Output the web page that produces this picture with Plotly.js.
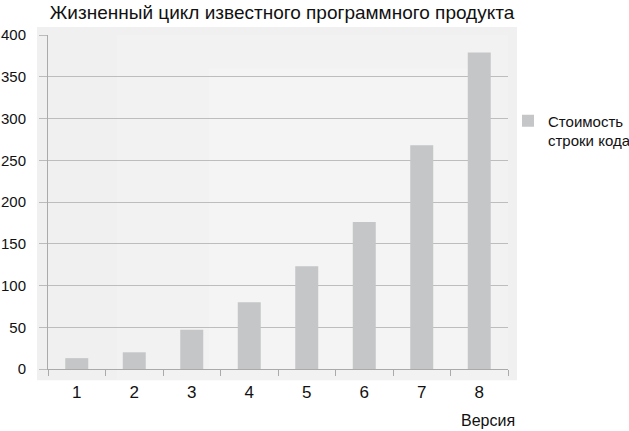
<!DOCTYPE html>
<html>
<head>
<meta charset="utf-8">
<script src="https://cdn.plot.ly/plotly-3.0.1.min.js"></script>
<style>
  html, body { margin: 0; padding: 0; background: #fff; }
  #chart { width: 629px; height: 431px; }
</style>
</head>
<body>
<div id="chart"></div>
<script>
// Версии продукта и стоимость строки кода
const versions = ['1', '2', '3', '4', '5', '6', '7', '8'];
const costPerLine = [13, 20, 47, 80, 123, 176, 268, 379];
const yTicks = [0, 50, 100, 150, 200, 250, 300, 350, 400];

const FONT = 'Liberation Sans, Arial, sans-serif';

const trace = {
    type: 'bar',
    x: versions,
    y: costPerLine,
    name: 'Стоимость<br>строки кода',
    marker: { color: '#c5c6c7', line: { width: 0 } },
    width: 0.4,
    hoverinfo: 'x+y'
};

const layout = {
    width: 629,
    height: 431,
    paper_bgcolor: '#ffffff',
    plot_bgcolor: 'rgba(0,0,0,0)',
    font: { family: FONT, size: 15, color: '#111' },
    margin: { l: 48, r: 121, t: 35, b: 62, autoexpand: false },
    title: {
        text: 'Жизненный цикл известного программного продукта',
        font: { family: FONT, size: 19, color: '#111' },
        xref: 'paper', x: 0.004, xanchor: 'left',
        yref: 'container', y: 0.972, yanchor: 'middle'
    },
    xaxis: {
        type: 'category',
        tickson: 'boundaries',
        ticks: 'outside',
        ticklen: 6,
        tickcolor: '#aaaaaa',
        showline: true,
        linecolor: '#aaaaaa',
        showgrid: false,
        zeroline: false,
        ticklabelstandoff: 8,
        tickfont: { family: FONT, size: 17, color: '#111' }
    },
    yaxis: {
        range: [0, 400],
        tickvals: yTicks,
        ticks: 'outside',
        ticklen: 8,
        tickcolor: '#bbbbbb',
        showline: true,
        linecolor: '#aaaaaa',
        gridcolor: '#bdbdbd',
        gridwidth: 1,
        zeroline: false,
        ticklabelstandoff: 10,
        tickfont: { family: FONT, size: 15, color: '#111' }
    },
    bargap: 0.6,
    showlegend: true,
    legend: {
        x: 1.0, xanchor: 'left',
        y: 0.792, yanchor: 'top',
        bgcolor: 'rgba(0,0,0,0)',
        font: { family: FONT, size: 15, color: '#111' },
        valign: 'top',
        itemwidth: 30
    },
    shapes: [
        // серая подложка диаграммы
        {
            type: 'rect', layer: 'below',
            xref: 'paper', yref: 'paper',
            x0: -0.024, x1: 1.0196, y0: -0.034, y1: 1.024,
            fillcolor: '#f0f0f0', line: { width: 0 }
        },
        {
            type: 'rect', layer: 'below',
            xref: 'paper', yref: 'paper',
            x0: 0.15, x1: 1.0, y0: -0.034, y1: 1.0,
            fillcolor: 'rgba(255,255,255,0.18)', line: { width: 0 }
        },
        {
            type: 'rect', layer: 'below',
            xref: 'paper', yref: 'paper',
            x0: 0.35, x1: 0.95, y0: 0.0, y1: 0.9,
            fillcolor: 'rgba(255,255,255,0.18)', line: { width: 0 }
        }
    ],
    annotations: [
        {
            text: 'Версия',
            xref: 'paper', yref: 'paper',
            x: 1.02, xanchor: 'right',
            y: -0.155, yanchor: 'middle',
            showarrow: false,
            font: { family: FONT, size: 16, color: '#111' }
        }
    ]
};

Plotly.newPlot('chart', [trace], layout, { displayModeBar: false, staticPlot: true });
</script>
</body>
</html>
